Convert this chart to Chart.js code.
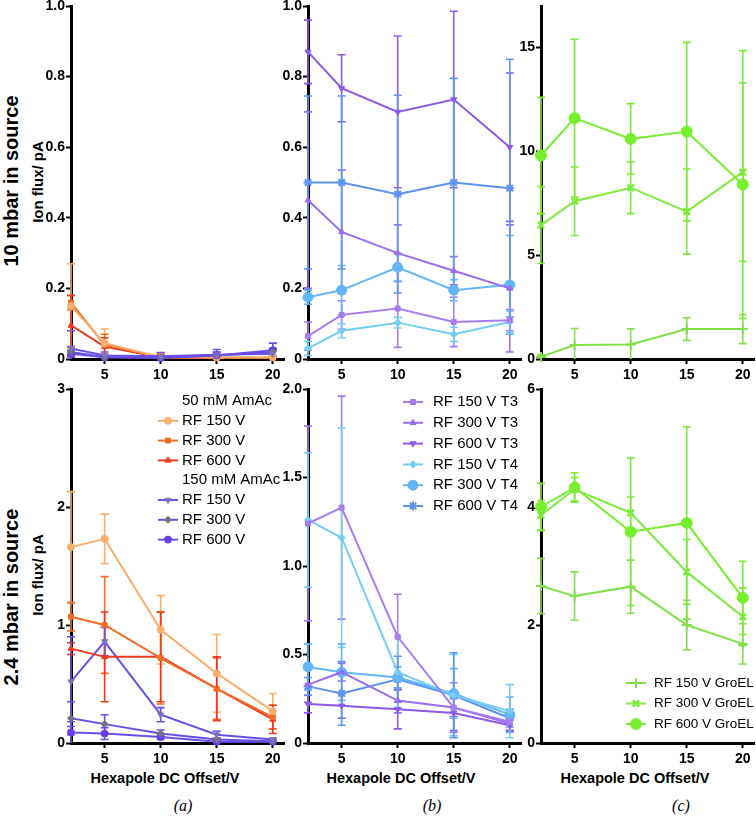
<!DOCTYPE html>
<html><head><meta charset="utf-8">
<script src="https://cdn.jsdelivr.net/npm/chart.js@4/dist/chart.umd.min.js"></script>
<style>
html,body{margin:0;padding:0;background:#fff;overflow:hidden}
body{width:756px;height:816px;position:relative;font-family:'Liberation Sans',Arial,sans-serif}
canvas{position:absolute}
.rot{position:absolute;transform:translate(-50%,-50%) rotate(-90deg);white-space:nowrap;font-weight:bold;color:#000}
.xt{position:absolute;transform:translate(-50%,-50%);font-weight:bold;font-size:14.5px;white-space:nowrap;color:#000}
.pl{position:absolute;transform:translate(-50%,-50%);font-family:'Liberation Serif','Times New Roman',serif;font-style:italic;font-size:16px;color:#000}
</style></head>
<body>
<div class="rot" style="left:11px;top:181px;font-size:20px">10 mbar in source</div>
<div class="rot" style="left:37px;top:182px;font-size:15px">Ion flux/ pA</div>
<div class="rot" style="left:11px;top:597px;font-size:20px">2.4 mbar in source</div>
<div class="rot" style="left:37px;top:575px;font-size:15px">Ion flux/ pA</div>
<div class="xt" style="left:165px;top:778px">Hexapole DC Offset/V</div>
<div class="xt" style="left:401px;top:778px">Hexapole DC Offset/V</div>
<div class="xt" style="left:635px;top:778px">Hexapole DC Offset/V</div>
<div class="pl" style="left:183px;top:806px">(a)</div>
<div class="pl" style="left:432px;top:806px">(b)</div>
<div class="pl" style="left:681px;top:806px">(c)</div>
<script>
// ---------- DATA ----------
const xVals = [2, 5, 10, 15, 20];
const xTicks = [5, 10, 15, 20];
const xTickLabels = ['5', '10', '15', '20'];

const yTicksTopAB = [0, 0.2, 0.4, 0.6, 0.8, 1.0];
const yLabelsTopAB = ['0', '0.2', '0.4', '0.6', '0.8', '1.0'];
const yTicksTopC = [0, 5, 10, 15];
const yLabelsTopC = ['0', '5', '10', '15'];
const yTicksBotA = [0, 1, 2, 3];
const yLabelsBotA = ['0', '1', '2', '3'];
const yTicksBotB = [0, 0.5, 1.0, 1.5, 2.0];
const yLabelsBotB = ['0', '0.5', '1.0', '1.5', '2.0'];
const yTicksBotC = [0, 2, 4, 6];
const yLabelsBotC = ['0', '2', '4', '6'];

// 10 mbar, panel (a)
const top50mM150 = [0.15, 0.045, 0.005, 0.005, 0.005];
const top50mM150Err = [0.12, 0.04, 0.01, 0.005, 0.005];
const top50mM300 = [0.16, 0.04, 0.005, 0.003, 0.003];
const top50mM300Err = [0.02, 0.03, 0.01, 0.005, 0.005];
const top50mM600 = [0.095, 0.035, 0.004, 0.003, 0.003];
const top50mM600Err = [0.085, 0.025, 0.008, 0.004, 0.004];
const top150mM150 = [0.03, 0.01, 0.008, 0.012, 0.015];
const top150mM150Err = [0.05, 0.01, 0.01, 0.015, 0.01];
const top150mM300 = [0.02, 0.005, 0.005, 0.01, 0.02];
const top150mM300Err = [0.015, 0.005, 0.005, 0.01, 0.01];
const top150mM600 = [0.015, 0.005, 0.003, 0.01, 0.025];
const top150mM600Err = [0.01, 0.005, 0.003, 0.008, 0.02];

// 10 mbar, panel (b)
const topT3_150 = [0.065, 0.125, 0.143, 0.105, 0.11];
const topT3_150Err = [0.04, 0.04, 0.11, 0.07, 0.03];
const topT3_300 = [0.45, 0.36, 0.30, 0.25, 0.20];
const topT3_300Err = [0.25, 0.175, 0.08, 0.04, 0.18];
const topT3_600 = [0.87, 0.767, 0.70, 0.735, 0.60];
const topT3_600Err = [0.09, 0.095, 0.215, 0.25, 0.21];
const topT4_150 = [0.03, 0.08, 0.103, 0.07, 0.105];
const topT4_150Err = [0.02, 0.02, 0.015, 0.02, 0.03];
const topT4_300 = [0.175, 0.195, 0.26, 0.195, 0.21];
const topT4_300Err = [0.02, 0.07, 0.04, 0.03, 0.14];
const topT4_600 = [0.50, 0.50, 0.467, 0.50, 0.484];
const topT4_600Err = [0.245, 0.245, 0.28, 0.295, 0.365];

// 10 mbar, panel (c)
const topGroEL150 = [0.1, 0.67, 0.7, 1.44, 1.44];
const topGroEL150Err = [0.1, 0.8, 0.75, 0.55, 0.7];
const topGroEL300 = [6.45, 7.6, 8.25, 7.1, 9.0];
const topGroEL300Err = [1.85, 1.65, 1.25, 2.05, 4.3];
const topGroEL600 = [9.8, 11.6, 10.6, 10.95, 8.4];
const topGroEL600Err = [2.8, 3.8, 1.7, 4.3, 6.45];

// 2.4 mbar, panel (a)
const bot50mM150 = [1.66, 1.73, 0.96, 0.59, 0.27];
const bot50mM150Err = [0.47, 0.21, 0.29, 0.33, 0.15];
const bot50mM300 = [1.07, 1.0, 0.72, 0.46, 0.22];
const bot50mM300Err = [0.12, 0.41, 0.39, 0.26, 0.1];
const bot50mM600 = [0.80, 0.73, 0.73, 0.46, 0.20];
const bot50mM600Err = [0.05, 0.38, 0.38, 0.27, 0.12];
const bot150mM150 = [0.52, 0.86, 0.24, 0.07, 0.03];
const bot150mM150Err = [0.38, 0.12, 0.06, 0.03, 0.01];
const bot150mM300 = [0.21, 0.16, 0.08, 0.03, 0.015];
const bot150mM300Err = [0.14, 0.08, 0.03, 0.01, 0.01];
const bot150mM600 = [0.09, 0.08, 0.05, 0.01, 0.01];
const bot150mM600Err = [0.09, 0.05, 0.02, 0.01, 0.005];

// 2.4 mbar, panel (b)
const botT3_150 = [1.24, 1.33, 0.60, 0.20, 0.12];
const botT3_150Err = [0.55, 0.63, 0.24, 0.14, 0.05];
const botT3_300 = [0.33, 0.40, 0.24, 0.20, 0.11];
const botT3_300Err = [0.1, 0.05, 0.07, 0.05, 0.04];
const botT3_600 = [0.22, 0.21, 0.19, 0.17, 0.10];
const botT3_600Err = [0.05, 0.07, 0.11, 0.1, 0.03];
const botT4_150 = [1.26, 1.16, 0.40, 0.27, 0.18];
const botT4_150Err = [0.38, 0.62, 0.2, 0.23, 0.15];
const botT4_300 = [0.43, 0.40, 0.37, 0.28, 0.16];
const botT4_300Err = [0.13, 0.16, 0.06, 0.14, 0.1];
const botT4_600 = [0.32, 0.28, 0.36, 0.27, 0.14];
const botT4_600Err = [0.05, 0.18, 0.13, 0.24, 0.05];

// 2.4 mbar, panel (c)
const botGroEL150 = [2.66, 2.49, 2.65, 2.0, 1.68];
const botGroEL150Err = [0.47, 0.41, 0.45, 0.42, 0.34];
const botGroEL300 = [3.86, 4.30, 3.90, 2.90, 2.14];
const botGroEL300Err = [0.25, 0.2, 0.27, 0.55, 0.49];
const botGroEL600 = [4.0, 4.33, 3.58, 3.73, 2.46];
const botGroEL600Err = [0.4, 0.25, 1.25, 1.63, 0.62];

// ---------- STYLE ----------
const C = {
  o150: '#F8AE6E', o300: '#F26C24', o600: '#EC3A22',
  p: '#6B4EEA', pm150: '#7B75B5', pm300: '#72737F', pm600: '#6A3DF2',
  t3_150: '#A77CF0', t3_300: '#9A6CEE', t3_600: '#8D58EB',
  t4_150: '#72CFF2', t4_300: '#62B6F7', t4_600: '#5B93F1',
  g150: '#80E048', g300: '#7CEB3A', g600: '#76EF2C'
};
const tickFont = {family: "'Liberation Sans', Arial, sans-serif", weight: 'bold', size: 14};

function ser(label, vals, errs, color, style, opt) {
  opt = opt || {};
  return {
    label: label,
    data: xVals.map((x, i) => ({x: x, y: vals[i]})),
    err: errs,
    borderColor: color, backgroundColor: color,
    pointBackgroundColor: opt.mk || color, pointBorderColor: opt.mk || color,
    pointStyle: style, pointRadius: opt.r || 3.5, pointBorderWidth: opt.bw || 1,
    pointRotation: opt.rot || 0, borderWidth: 2, tension: 0, clip: false
  };
}

const errorBars = {
  id: 'errorBars',
  beforeDatasetsDraw(chart) {
    const ctx = chart.ctx, xs = chart.scales.x, ys = chart.scales.y;
    chart.data.datasets.forEach((ds) => {
      if (!ds.err) return;
      ctx.save();
      ctx.strokeStyle = ds.borderColor;
      ctx.lineWidth = 1.6;
      ds.data.forEach((p, i) => {
        const e = ds.err[i];
        if (!e) return;
        const px = xs.getPixelForValue(p.x);
        const hiV = p.y + e, loV = p.y - e;
        const top = ys.getPixelForValue(hiV);
        const bot = ys.getPixelForValue(Math.max(loV, 0));
        ctx.beginPath();
        ctx.moveTo(px, top); ctx.lineTo(px, bot);
        ctx.moveTo(px - 4, top); ctx.lineTo(px + 4, top);
        if (loV > 0) { ctx.moveTo(px - 4, bot); ctx.lineTo(px + 4, bot); }
        ctx.stroke();
      });
      ctx.restore();
    });
  }
};

const panelLegend = {
  id: 'panelLegend',
  afterDraw(chart, args, o) {
    if (!o || !o.items) return;
    const ctx = chart.ctx;
    ctx.save();
    ctx.font = o.font;
    ctx.textBaseline = 'middle';
    ctx.textAlign = 'left';
    o.items.forEach((it, i) => {
      const y = o.y0 + i * o.dy - o.top;
      if (it.ds != null) {
        const ds = chart.data.datasets[it.ds];
        const x1 = o.lineX0 - o.left, x2 = o.lineX1 - o.left;
        ctx.strokeStyle = ds.borderColor;
        ctx.lineWidth = 2;
        ctx.beginPath(); ctx.moveTo(x1, y); ctx.lineTo(x2, y); ctx.stroke();
        ctx.fillStyle = ds.pointBackgroundColor;
        ctx.strokeStyle = ds.pointBorderColor;
        ctx.lineWidth = ds.pointBorderWidth;
        Chart.helpers.drawPoint(ctx, {pointStyle: ds.pointStyle, rotation: ds.pointRotation, radius: ds.pointRadius, borderWidth: ds.pointBorderWidth}, (x1 + x2) / 2, y);
      }
      ctx.fillStyle = '#000';
      ctx.fillText(it.text, o.textX - o.left, y);
    });
    ctx.restore();
  }
};

function makePanel(p) {
  const yW = p.yW, padTop = 16, padRight = 14, xH = 27;
  const left = p.areaLeft - yW;
  const top = p.areaTop - padTop;
  const w = (p.areaRight - p.areaLeft) + yW + padRight;
  const h = padTop + (p.areaBottom - p.areaTop) + xH;
  const cv = document.createElement('canvas');
  cv.width = w; cv.height = h;
  cv.style.left = left + 'px'; cv.style.top = top + 'px';
  cv.style.width = w + 'px'; cv.style.height = h + 'px';
  document.body.appendChild(cv);
  if (p.legend) { p.legend.left = left; p.legend.top = top; }
  const findLabel = (arr, labels, v) => {
    const k = arr.findIndex(t => Math.abs(t - v) < 1e-9);
    return k >= 0 ? labels[k] : '';
  };
  new Chart(cv, {
    type: 'line',
    data: {datasets: p.datasets},
    options: {
      responsive: false, animation: false, devicePixelRatio: 1,
      layout: {padding: {top: padTop, right: padRight, left: 0, bottom: 0}},
      plugins: {legend: {display: false}, tooltip: {enabled: false}, panelLegend: p.legend || {}},
      scales: {
        x: {
          type: 'linear', min: 2, max: 21,
          afterBuildTicks: s => { s.ticks = xTicks.map(v => ({value: v})); },
          afterFit: s => { s.height = xH; },
          ticks: {font: tickFont, color: '#000', padding: 3, maxRotation: 0,
                  callback: v => findLabel(xTicks, xTickLabels, v)},
          grid: {drawOnChartArea: false, tickLength: 5, tickWidth: 2, tickColor: '#000'},
          border: {color: '#000', width: 3}
        },
        y: {
          type: 'linear', min: p.yMin, max: p.yMax,
          afterBuildTicks: s => { s.ticks = p.yTicks.map(v => ({value: v})); },
          afterFit: s => { s.width = yW; },
          ticks: {font: tickFont, color: '#000', padding: 1,
                  callback: v => findLabel(p.yTicks, p.yLabels, v)},
          grid: {drawOnChartArea: false, tickLength: 5, tickWidth: 2, tickColor: '#000'},
          border: {color: '#000', width: 3}
        }
      }
    },
    plugins: [errorBars, panelLegend]
  });
}

const legFont = "15px 'Liberation Sans', Arial, sans-serif";

// top (a)
makePanel({
  areaLeft: 71, areaRight: 284, areaTop: 6, areaBottom: 359, yW: 40,
  yMin: 0, yMax: 1.0, yTicks: yTicksTopAB, yLabels: yLabelsTopAB,
  datasets: [
    ser('RF 150 V', top150mM150, top150mM150Err, C.p, 'triangle', {mk: C.pm150, rot: 180}),
    ser('RF 300 V', top150mM300, top150mM300Err, C.p, 'rectRot', {mk: C.pm300}),
    ser('RF 600 V', top150mM600, top150mM600Err, C.p, 'circle', {mk: C.pm600}),
    ser('RF 150 V', top50mM150, top50mM150Err, C.o150, 'circle'),
    ser('RF 300 V', top50mM300, top50mM300Err, C.o300, 'rect'),
    ser('RF 600 V', top50mM600, top50mM600Err, C.o600, 'triangle')
  ]
});
// top (b)
makePanel({
  areaLeft: 308, areaRight: 521, areaTop: 6, areaBottom: 359, yW: 40,
  yMin: 0, yMax: 1.0, yTicks: yTicksTopAB, yLabels: yLabelsTopAB,
  datasets: [
    ser('RF 150 V T3', topT3_150, topT3_150Err, C.t3_150, 'rect'),
    ser('RF 300 V T3', topT3_300, topT3_300Err, C.t3_300, 'triangle'),
    ser('RF 600 V T3', topT3_600, topT3_600Err, C.t3_600, 'triangle', {rot: 180}),
    ser('RF 150 V T4', topT4_150, topT4_150Err, C.t4_150, 'rectRot'),
    ser('RF 300 V T4', topT4_300, topT4_300Err, C.t4_300, 'circle', {r: 5}),
    ser('RF 600 V T4', topT4_600, topT4_600Err, C.t4_600, 'star', {r: 4.5, bw: 2})
  ]
});
// top (c)
makePanel({
  areaLeft: 541, areaRight: 754, areaTop: 6, areaBottom: 359, yW: 32,
  yMin: 0, yMax: 17, yTicks: yTicksTopC, yLabels: yLabelsTopC,
  datasets: [
    ser('RF 150 V GroEL', topGroEL150, topGroEL150Err, C.g150, 'cross', {r: 5, bw: 2}),
    ser('RF 300 V GroEL', topGroEL300, topGroEL300Err, C.g300, 'crossRot', {r: 4.5, bw: 2.5}),
    ser('RF 600 V GroEL', topGroEL600, topGroEL600Err, C.g600, 'circle', {r: 5.5})
  ]
});
// bottom (a)
makePanel({
  areaLeft: 71, areaRight: 284, areaTop: 389, areaBottom: 743, yW: 40,
  yMin: 0, yMax: 3, yTicks: yTicksBotA, yLabels: yLabelsBotA,
  datasets: [
    ser('RF 150 V', bot50mM150, bot50mM150Err, C.o150, 'circle'),
    ser('RF 300 V', bot50mM300, bot50mM300Err, C.o300, 'rect'),
    ser('RF 600 V', bot50mM600, bot50mM600Err, C.o600, 'triangle'),
    ser('RF 150 V', bot150mM150, bot150mM150Err, C.p, 'triangle', {mk: C.pm150, rot: 180}),
    ser('RF 300 V', bot150mM300, bot150mM300Err, C.p, 'rectRot', {mk: C.pm300}),
    ser('RF 600 V', bot150mM600, bot150mM600Err, C.p, 'circle', {mk: C.pm600})
  ],
  legend: {
    font: legFont, y0: 401, dy: 19.8, lineX0: 158, lineX1: 178, textX: 182,
    items: [
      {text: '50 mM AmAc'}, {text: 'RF 150 V', ds: 0}, {text: 'RF 300 V', ds: 1}, {text: 'RF 600 V', ds: 2},
      {text: '150 mM AmAc'}, {text: 'RF 150 V', ds: 3}, {text: 'RF 300 V', ds: 4}, {text: 'RF 600 V', ds: 5}
    ]
  }
});
// bottom (b)
makePanel({
  areaLeft: 308, areaRight: 521, areaTop: 389, areaBottom: 743, yW: 40,
  yMin: 0, yMax: 2.0, yTicks: yTicksBotB, yLabels: yLabelsBotB,
  datasets: [
    ser('RF 150 V T3', botT3_150, botT3_150Err, C.t3_150, 'rect'),
    ser('RF 300 V T3', botT3_300, botT3_300Err, C.t3_300, 'triangle'),
    ser('RF 600 V T3', botT3_600, botT3_600Err, C.t3_600, 'triangle', {rot: 180}),
    ser('RF 150 V T4', botT4_150, botT4_150Err, C.t4_150, 'rectRot'),
    ser('RF 300 V T4', botT4_300, botT4_300Err, C.t4_300, 'circle', {r: 5}),
    ser('RF 600 V T4', botT4_600, botT4_600Err, C.t4_600, 'star', {r: 4.5, bw: 2})
  ],
  legend: {
    font: legFont, y0: 402, dy: 20.8, lineX0: 403, lineX1: 423, textX: 433,
    items: [
      {text: 'RF 150 V T3', ds: 0}, {text: 'RF 300 V T3', ds: 1}, {text: 'RF 600 V T3', ds: 2},
      {text: 'RF 150 V T4', ds: 3}, {text: 'RF 300 V T4', ds: 4}, {text: 'RF 600 V T4', ds: 5}
    ]
  }
});
// bottom (c)
makePanel({
  areaLeft: 541, areaRight: 754, areaTop: 389, areaBottom: 743, yW: 32,
  yMin: 0, yMax: 6, yTicks: yTicksBotC, yLabels: yLabelsBotC,
  datasets: [
    ser('RF 150 V GroEL', botGroEL150, botGroEL150Err, C.g150, 'cross', {r: 5, bw: 2}),
    ser('RF 300 V GroEL', botGroEL300, botGroEL300Err, C.g300, 'crossRot', {r: 4.5, bw: 2.5}),
    ser('RF 600 V GroEL', botGroEL600, botGroEL600Err, C.g600, 'circle', {r: 5.5})
  ],
  legend: {
    font: "13.5px 'Liberation Sans', Arial, sans-serif", y0: 683, dy: 20.5, lineX0: 626, lineX1: 646, textX: 654,
    items: [
      {text: 'RF 150 V GroEL', ds: 0}, {text: 'RF 300 V GroEL', ds: 1}, {text: 'RF 600 V GroEL', ds: 2}
    ]
  }
});
</script>
</body></html>
